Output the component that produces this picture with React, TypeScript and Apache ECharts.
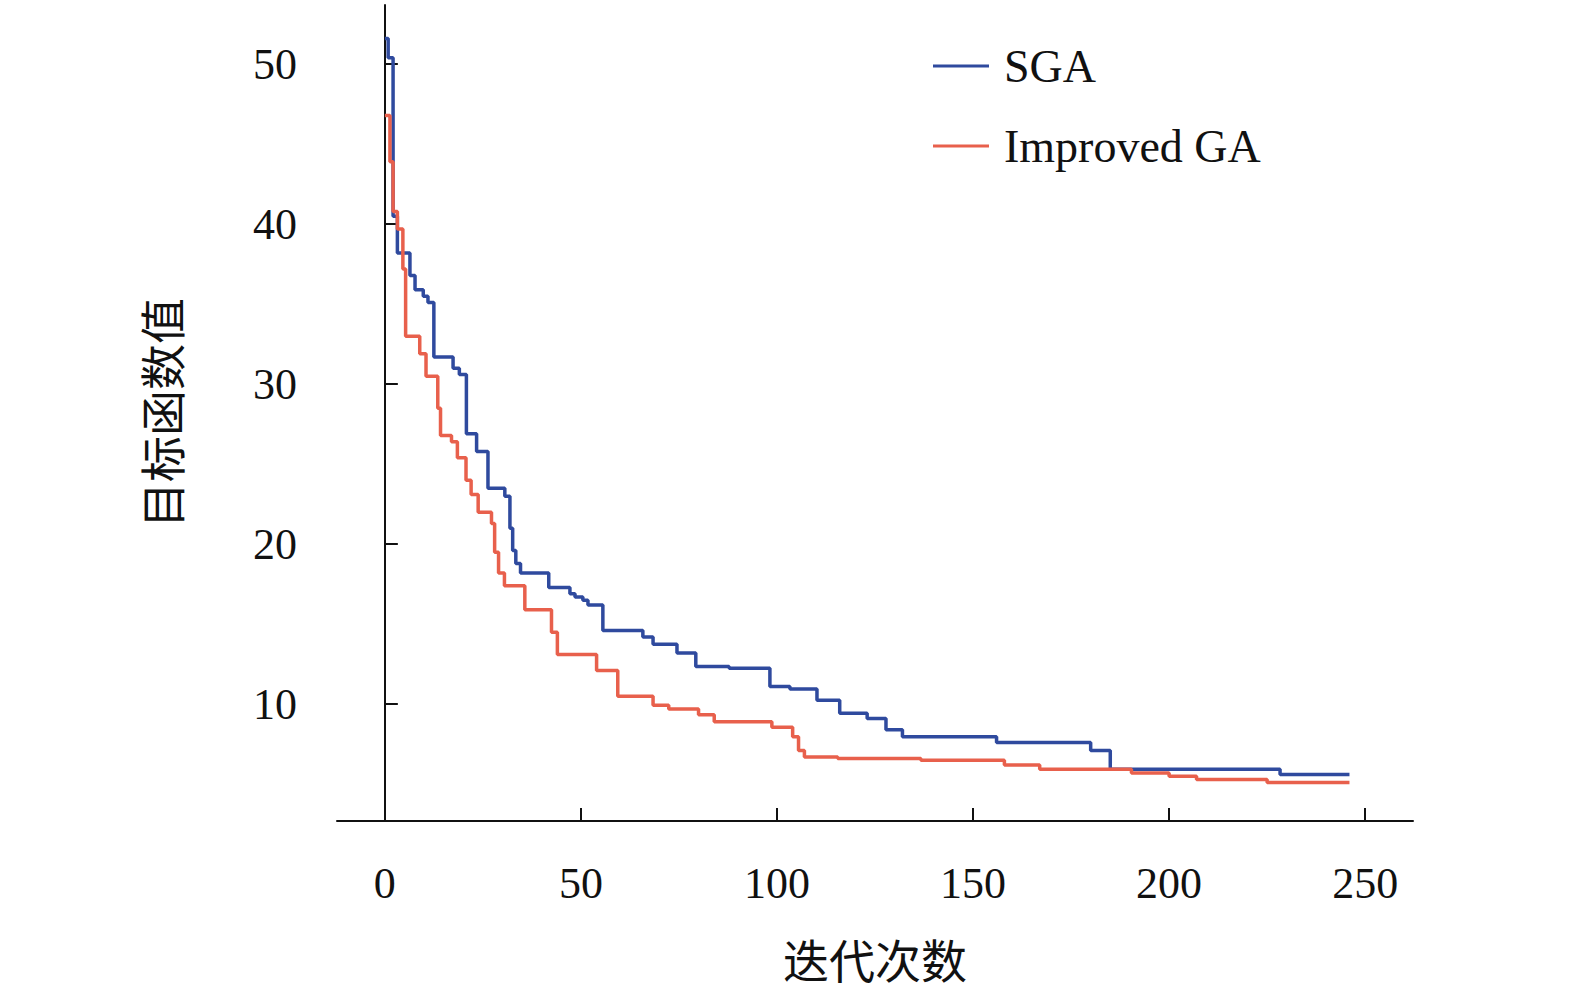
import React, { useEffect, useRef } from "react";
import * as echarts from "echarts";

const sgaX = [0, 0.85, 2.1, 3.2, 6.4, 7.7, 9.8, 11, 12.5, 17.4, 19, 20.8, 23.4, 26.3, 30.6, 31.9, 32.6, 33.4, 34.6, 41.8, 47.2, 48.5, 50.5, 51.8, 55.6, 65.8, 68.4, 74.5, 79.3, 87.8, 98.2, 103.3, 110.2, 116, 123, 127.8, 132, 156, 180, 185, 228.3, 246];
const sgaY = [51.6, 50.4, 40.5, 38.2, 36.8, 35.9, 35.5, 35.1, 31.7, 31.0, 30.6, 26.9, 25.8, 23.5, 23.0, 21.0, 19.6, 18.8, 18.2, 17.3, 16.9, 16.7, 16.5, 16.2, 14.6, 14.2, 13.75, 13.2, 12.35, 12.25, 11.1, 10.95, 10.25, 9.44, 9.1, 8.4, 7.97, 7.6, 7.1, 5.94, 5.6, 5.6];
const gaX = [0, 1.3, 2.1, 3.2, 4.6, 5.3, 8.9, 10.5, 13.5, 14.2, 17, 18.5, 20.7, 22, 23.8, 27.2, 28, 29, 30.5, 35.7, 42.5, 44, 54, 59.4, 68.4, 72.4, 80, 84, 98.7, 104, 105.5, 107, 115.5, 136.7, 158, 167, 190.4, 200, 207, 225, 246];
const gaY = [46.8, 43.9, 40.8, 39.7, 37.2, 33.0, 31.9, 30.5, 28.5, 26.8, 26.4, 25.4, 24.0, 23.1, 22.0, 21.3, 19.5, 18.2, 17.4, 15.9, 14.5, 13.1, 12.1, 10.5, 9.94, 9.7, 9.34, 8.9, 8.56, 7.97, 7.1, 6.7, 6.6, 6.5, 6.2, 5.94, 5.7, 5.5, 5.3, 5.1, 5.1];
const xTicks = [0, 50, 100, 150, 200, 250];
const yTicks = [10, 20, 30, 40, 50];

const FONT = "'Liberation Serif', 'Noto Sans CJK SC', serif";

export default function App() {
  const ref = useRef<HTMLDivElement>(null);
  useEffect(() => {
    const chart = echarts.init(ref.current!, null, { renderer: "svg" });
    const axisLine = { lineStyle: { color: "#111", width: 2 } };
    chart.setOption({
      animation: false,
      backgroundColor: "#fff",
      grid: { left: 337, right: 162, top: 5, bottom: 179 },
      legend: {
        orient: "vertical",
        left: 928,
        top: 38,
        itemWidth: 56,
        itemHeight: 3,
        itemGap: 34,
        icon: "rect",
        textStyle: { fontFamily: FONT, fontSize: 46, color: "#111", padding: [0, 0, 0, 10] },
        data: ["SGA", "Improved GA"],
      },
      xAxis: {
        type: "value",
        min: -12.2,
        max: 262.2,
        name: "迭代次数",
        nameLocation: "middle",
        nameGap: 118,
        nameTextStyle: { fontFamily: FONT, fontSize: 46, color: "#111" },
        axisLine,
        axisTick: { show: true, inside: true, length: 13, lineStyle: { color: "#111", width: 2 }, customValues: xTicks },
        axisLabel: { fontFamily: FONT, fontSize: 44, color: "#111", margin: 40, customValues: xTicks },
        splitLine: { show: false },
      },
      yAxis: {
        type: "value",
        min: 2.7,
        max: 53.7,
        name: "目标函数值",
        nameLocation: "middle",
        nameGap: 150,
        nameRotate: 90,
        nameTextStyle: { fontFamily: FONT, fontSize: 46, color: "#111" },
        axisLine: { show: true, ...axisLine },
        axisTick: { show: true, inside: true, length: 13, lineStyle: { color: "#111", width: 2 }, customValues: yTicks },
        axisLabel: { fontFamily: FONT, fontSize: 44, color: "#111", margin: 40, customValues: yTicks },
        splitLine: { show: false },
      },
      series: [
        {
          name: "SGA",
          type: "line",
          step: "end",
          symbol: "none",
          color: "#2f4a9e",
          lineStyle: { width: 3.5, color: "#2f4a9e" },
          data: sgaX.map((x, i) => [x, sgaY[i]]),
        },
        {
          name: "Improved GA",
          type: "line",
          step: "end",
          symbol: "none",
          color: "#e8604c",
          lineStyle: { width: 3.5, color: "#e8604c" },
          data: gaX.map((x, i) => [x, gaY[i]]),
        },
      ],
    });
    return () => chart.dispose();
  }, []);
  return <div ref={ref} style={{ position: "fixed", left: 0, top: 0, width: 1575, height: 1000 }} />;
}
